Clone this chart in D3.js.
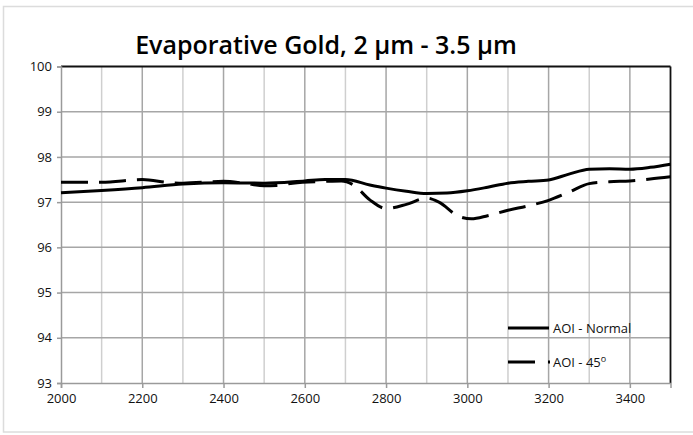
<!DOCTYPE html>
<html><head><meta charset="utf-8">
<script src="https://cdn.jsdelivr.net/npm/d3@7"></script>
<style>body{margin:0;background:#fff}</style>
</head><body>
<svg id="c" width="693" height="435"></svg>
<script>
const title = "Evaporative Gold, 2 µm - 3.5 µm";
const xTicks = [2000,2200,2400,2600,2800,3000,3200,3400];
const yTicks = [93,94,95,96,97,98,99,100];
const seriesNames = ["AOI - Normal","AOI - 45"];
const normalWl = [2000,2100,2200,2300,2400,2500,2600,2650,2700,2760,2800,2850,2900,2950,3000,3050,3100,3150,3200,3250,3300,3350,3400,3450,3500];
const normalR  = [97.21,97.26,97.32,97.40,97.43,97.42,97.47,97.50,97.50,97.38,97.31,97.24,97.19,97.20,97.25,97.33,97.42,97.46,97.49,97.62,97.73,97.74,97.73,97.77,97.84];
const aoi45Wl = [2000,2100,2200,2270,2300,2400,2450,2500,2530,2570,2650,2690,2720,2760,2800,2850,2900,2930,2980,3010,3050,3100,3150,3200,3250,3300,3350,3400,3450,3500];
const aoi45R  = [97.44,97.44,97.50,97.43,97.42,97.46,97.42,97.36,97.37,97.42,97.46,97.47,97.38,97.05,96.86,96.95,97.09,97.00,96.68,96.63,96.70,96.82,96.92,97.04,97.22,97.41,97.45,97.47,97.51,97.56];

const svg = d3.select("#c");
// outer frame
svg.append("rect").attr("x",3.5).attr("y",6.5).attr("width",700).attr("height",425.5)
  .attr("fill","none").attr("stroke","#dcdcdc").attr("stroke-width",1.5);

const L=61, R=670.5, T=66.5, B=383;
const x = d3.scaleLinear().domain([2000,3500]).range([L,R]);
const y = d3.scaleLinear().domain([93,100]).range([B,T]);

// grid
const g = svg.append("g");
g.selectAll(".vg").data(d3.range(2100,3500,100)).enter().append("line")
  .attr("x1",d=>x(d)).attr("x2",d=>x(d)).attr("y1",T).attr("y2",B)
  .attr("stroke",d=>d%200===0?"#a6a6a6":"#cfcfcf").attr("stroke-width",1.5);
g.selectAll(".hg").data(yTicks.filter(v=>v>93&&v<100)).enter().append("line")
  .attr("x1",L).attr("x2",R).attr("y1",d=>y(d)).attr("y2",d=>y(d))
  .attr("stroke","#a6a6a6").attr("stroke-width",1.5);

// top/right frame dark
svg.append("line").attr("x1",L).attr("x2",R).attr("y1",T).attr("y2",T).attr("stroke","#111").attr("stroke-width",1.8);
svg.append("line").attr("x1",R).attr("x2",R).attr("y1",T).attr("y2",B).attr("stroke","#111").attr("stroke-width",1.8);

// axes
const xAxis = d3.axisBottom(x).tickValues(xTicks).tickSize(5).tickPadding(6).tickFormat(d3.format("d"));
const ax = svg.append("g").attr("transform",`translate(0,${B})`).call(xAxis);
const yAxis = d3.axisLeft(y).tickValues(yTicks).tickSize(4).tickPadding(5).tickFormat(d3.format("d"));
const ay = svg.append("g").attr("transform",`translate(${L},0)`).call(yAxis);
[ax,ay].forEach(a=>{
  a.select(".domain").attr("stroke","#9a9a9a").attr("stroke-width",1.5);
  a.selectAll(".tick line").attr("stroke","#9a9a9a").attr("stroke-width",1.5);
  a.selectAll("text").attr("font-family","'Open Sans', sans-serif").attr("font-size",13).attr("fill","#111");
});

// lines
const line = d3.line().x(d=>x(d[0])).y(d=>y(d[1])).curve(d3.curveMonotoneX);
svg.append("path").datum(d3.zip(normalWl,normalR)).attr("d",line)
  .attr("fill","none").attr("stroke","#000").attr("stroke-width",3);
svg.append("path").datum(d3.zip(aoi45Wl,aoi45R)).attr("d",line)
  .attr("fill","none").attr("stroke","#000").attr("stroke-width",3).attr("stroke-dasharray","27,11");

// title
svg.append("text").attr("x",326).attr("y",54).attr("text-anchor","middle")
  .attr("font-family","'Open Sans', sans-serif").attr("font-weight",600).attr("font-size",25)
  .attr("fill","#000").text(title);

// legend
const lg = svg.append("g");
lg.append("line").attr("x1",508).attr("x2",549).attr("y1",328).attr("y2",328).attr("stroke","#000").attr("stroke-width",3);
lg.append("line").attr("x1",508).attr("x2",550).attr("y1",362).attr("y2",362).attr("stroke","#000").attr("stroke-width",3).attr("stroke-dasharray","27,13");
lg.append("text").attr("x",553).attr("y",333).attr("font-family","'Open Sans', sans-serif").attr("font-size",13).attr("fill","#111").text(seriesNames[0]);
const t2 = lg.append("text").attr("x",553).attr("y",367).attr("font-family","'Open Sans', sans-serif").attr("font-size",13).attr("fill","#111").text(seriesNames[1]);
t2.append("tspan").attr("dy",-5).attr("font-size",9).text("o");
</script>
</body></html>
